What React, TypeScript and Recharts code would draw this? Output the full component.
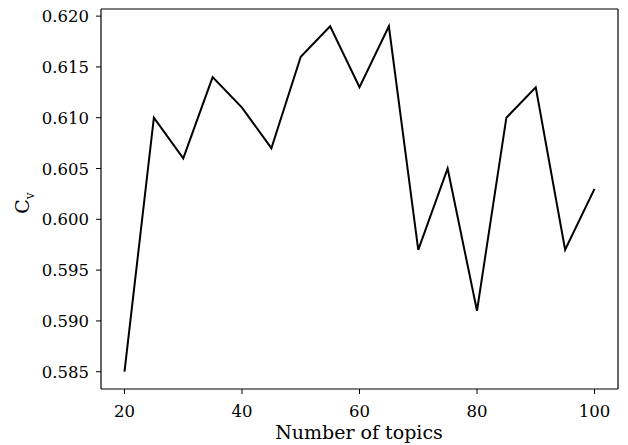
import React from 'react';
import { LineChart, Line, XAxis, YAxis, ReferenceLine } from 'recharts';

const topics = [20, 25, 30, 35, 40, 45, 50, 55, 60, 65, 70, 75, 80, 85, 90, 95, 100];
const cvValues = [0.585, 0.610, 0.606, 0.614, 0.611, 0.607, 0.616, 0.619, 0.613, 0.619, 0.597, 0.605, 0.591, 0.610, 0.613, 0.597, 0.603];
const xTicks = [20, 40, 60, 80, 100];
const yTicks = [0.585, 0.590, 0.595, 0.600, 0.605, 0.610, 0.615, 0.620];

const data = topics.map((t, i) => ({ t, cv: cvValues[i] }));

const FONT = 'DejaVu Serif';
const X_DOMAIN: [number, number] = [16, 104];
const Y_DOMAIN: [number, number] = [0.5833, 0.6207];

const XTick = (props: any) => {
  const { x, y, payload } = props;
  return (
    <text x={x} y={y + 16} textAnchor="middle" fill="#000" fontFamily={FONT} fontSize={16.5}>
      {payload.value}
    </text>
  );
};

const YTick = (props: any) => {
  const { x, y, payload } = props;
  return (
    <text x={x - 1} y={y + 6} textAnchor="end" fill="#000" fontFamily={FONT} fontSize={16.5}>
      {Number(payload.value).toFixed(3)}
    </text>
  );
};

export default function App() {
  return (
    <div style={{ position: 'absolute', left: 0, top: 0, background: '#fff' }}>
      <LineChart width={628} height={445} data={data} margin={{ top: 9, right: 10, left: 0, bottom: 0 }}>
        <XAxis
          dataKey="t"
          type="number"
          domain={X_DOMAIN}
          ticks={xTicks}
          allowDataOverflow
          height={56}
          tickSize={5}
          tickMargin={7}
          axisLine={{ stroke: '#000', strokeWidth: 1.2 }}
          tickLine={{ stroke: '#000' }}
          tick={<XTick />}
          label={{
            content: () => (
              <text x={359} y={439} textAnchor="middle" fill="#000" fontFamily={FONT} fontSize={19}>
                Number of topics
              </text>
            ),
          }}
        />
        <YAxis
          type="number"
          domain={Y_DOMAIN}
          ticks={yTicks}
          allowDataOverflow
          width={101}
          tickSize={5}
          tickMargin={6}
          axisLine={{ stroke: '#000', strokeWidth: 1.2 }}
          tickLine={{ stroke: '#000' }}
          tick={<YTick />}
          label={{
            content: () => (
              <text x={29} y={203} transform="rotate(-90 29 203)" textAnchor="middle" fill="#000" fontFamily={FONT} fontSize={19}>
                <tspan>C</tspan>
                <tspan fontSize={12} dy={5}>v</tspan>
              </text>
            ),
          }}
        />
        <ReferenceLine y={Y_DOMAIN[1]} stroke="#000" strokeWidth={1.2} ifOverflow="extendDomain" />
        <ReferenceLine x={X_DOMAIN[1]} stroke="#000" strokeWidth={1.2} ifOverflow="extendDomain" />
        <Line type="linear" dataKey="cv" stroke="#000" strokeWidth={2} dot={false} isAnimationActive={false} />
      </LineChart>
    </div>
  );
}
